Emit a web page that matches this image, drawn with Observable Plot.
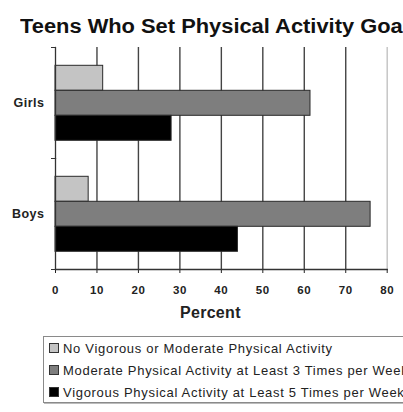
<!DOCTYPE html>
<html>
<head>
<meta charset="utf-8">
<script src="https://cdn.jsdelivr.net/npm/d3@7"></script>
<script src="https://cdn.jsdelivr.net/npm/@observablehq/plot@0.6"></script>
<style>
  html, body { margin: 0; padding: 0; background: #fff; }
  body { width: 403px; height: 412px; overflow: hidden; position: relative; font-family: "Liberation Sans", Arial, sans-serif; }
  #title { position: absolute; left: 20px; top: 15px; font-size: 20px; font-weight: bold; white-space: nowrap; color: #111; transform: scaleX(1.093); transform-origin: 0 0; }
  #chart { position: absolute; left: 0; top: 40px; }
  #chart svg [aria-label="x-axis tick label"] text { font-weight: bold; font-size: 11.5px; letter-spacing: 0.6px; }
  #chart svg [aria-label="fy-axis tick label"] text { font-weight: bold; font-size: 12.5px; letter-spacing: 0.5px; }
  #chart svg [aria-label="x-axis label"] text { font-weight: bold; font-size: 16px; letter-spacing: 0.3px; translate: -11px 0; }
  #legend { position: absolute; left: 43px; top: 336px; width: 400px; height: 67px; border: 1px solid #8a8a8a; box-shadow: 1px 1px 0 #bbb; box-sizing: border-box; font-size: 13px; color: #222; }
  .item { position: absolute; left: 5px; white-space: nowrap; line-height: 14px; letter-spacing: 0.7px; }
  .sw { display: inline-block; width: 8px; height: 8px; border: 1px solid #333; margin-right: 4px; vertical-align: 0px; }
</style>
</head>
<body>
<div id="title">Teens Who Set Physical Activity Goals</div>
<div id="chart"></div>
<div id="legend"></div>
<script>
const genders = ["Girls", "Boys"];
const series = [
  "No Vigorous or Moderate Physical Activity",
  "Moderate Physical Activity at Least 3 Times per Week",
  "Vigorous Physical Activity at Least 5 Times per Week"
];
const girlsValues = [11.5, 61.5, 28];
const boysValues = [8, 76, 44];
const xTicks = [0, 10, 20, 30, 40, 50, 60, 70, 80];
const seriesColors = ["#c4c4c4", "#7e7e7e", "#000000"];

const valuesByGender = {Girls: girlsValues, Boys: boysValues};
const rows = genders.flatMap(g => series.map((s, i) => ({gender: g, series: s, value: valuesByGender[g][i]})));

const W = 403, H = 285;
const mL = 55, mR = 16.3, mT = 6.7, mB = 55;
const plotW = W - mL - mR;

const chart = Plot.plot({
  width: W,
  height: H,
  marginLeft: mL,
  marginRight: mR,
  marginTop: mT,
  marginBottom: mB,
  style: {fontFamily: "'Liberation Sans', Arial, sans-serif", fontSize: "11px", color: "#222", background: "#fff"},
  x: {domain: [0, 80], ticks: xTicks, tickSize: 4, tickPadding: 12, label: "Percent", labelAnchor: "center", labelArrow: "none", labelOffset: 48},
  y: {domain: series, axis: null, paddingInner: 0, paddingOuter: 0.66},
  fy: {domain: genders, padding: 0, label: null, tickSize: 0, tickPadding: 11},
  color: {domain: series, range: seriesColors},
  marks: [
    Plot.ruleX(xTicks.slice(1), {stroke: d => d === 80 ? "#c2c2c2" : "#444", strokeWidth: 1.4}),
    Plot.barX(rows, {fy: "gender", y: "series", x: "value", fill: "series", stroke: "#2a2a2a", strokeWidth: 1}),
    Plot.frame({anchor: "left", stroke: "#333", strokeWidth: 1.3}),
    Plot.frame({anchor: "top", stroke: "#333", insetLeft: -4, insetRight: plotW}),
    Plot.frame({anchor: "bottom", stroke: "#333", insetLeft: -4, insetRight: plotW}),
    Plot.frame({anchor: "bottom", stroke: "#333", strokeWidth: 1.3, fy: () => genders[genders.length - 1]})
  ]
});
document.getElementById("chart").appendChild(chart);

const legend = document.getElementById("legend");
const legendTops = [5, 26.5, 49];
series.forEach((s, i) => {
  const item = document.createElement("div");
  item.className = "item";
  item.style.top = legendTops[i] + "px";
  const sw = document.createElement("span");
  sw.className = "sw";
  sw.style.background = seriesColors[i];
  item.appendChild(sw);
  item.appendChild(document.createTextNode(s));
  legend.appendChild(item);
});
</script>
</body>
</html>
